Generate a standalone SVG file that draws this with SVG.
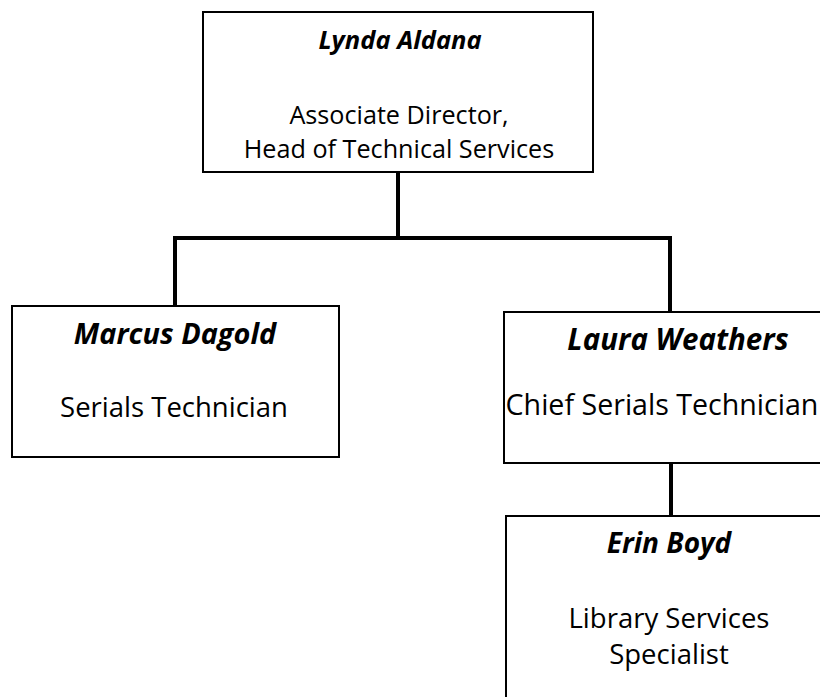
<svg xmlns="http://www.w3.org/2000/svg" width="820" height="697" viewBox="0 0 820 697">
<style>
.box{fill:#fff;stroke:#000;stroke-width:2}
.conn{fill:none;stroke:#000;stroke-width:4}
text{font-family:"Open Sans","Liberation Sans",sans-serif;fill:#000;text-anchor:middle}
.name{font-weight:bold;font-style:italic}
</style>
<rect width="820" height="697" fill="#fff"/>
<g id="connectors">
<path class="conn" d="M398,173 V238 M173,238 H672 M175,236 V310 M670,236 V313 M671,463 V516"/>
</g>
<g id="lynda">
<rect class="box" x="203" y="12" width="390" height="160"/>
<text class="name" x="400" y="49" font-size="25.5">Lynda Aldana</text>
<text x="399" y="124" font-size="25.2">Associate Director,</text>
<text x="399" y="158" font-size="25.2">Head of Technical Services</text>
</g>
<g id="marcus">
<rect class="box" x="12" y="306" width="327" height="151"/>
<text class="name" x="175" y="344" font-size="28.9">Marcus Dagold</text>
<text x="174" y="417" font-size="27.5">Serials Technician</text>
</g>
<g id="laura">
<rect class="box" x="504" y="312" width="348" height="151"/>
<text class="name" x="678" y="350" font-size="29.5">Laura Weathers</text>
<text x="662" y="415" font-size="28.6">Chief Serials Technician</text>
</g>
<g id="erin">
<rect class="box" x="506" y="516" width="326" height="200"/>
<text class="name" x="669" y="553" font-size="28">Erin Boyd</text>
<text x="669" y="628" font-size="27.5">Library Services</text>
<text x="669" y="664" font-size="27.5">Specialist</text>
</g>
</svg>
